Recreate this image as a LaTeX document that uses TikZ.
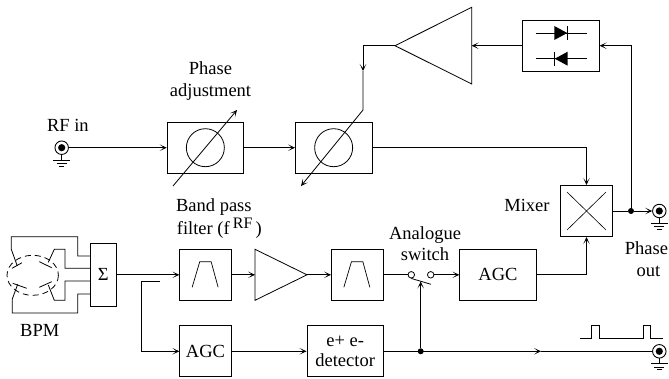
\documentclass[tikz,border=0pt]{standalone}
\usepackage{fontspec}
\setmainfont{Liberation Serif}
\usetikzlibrary{arrows.meta,positioning,calc}

\begin{document}
\begin{tikzpicture}[
    x=1pt, y=-1pt,
    font=\fontsize{18.5}{22}\selectfont,
    >={Stealth[length=7pt,width=6.5pt,inset=4.2pt]},
    line width=0.8pt,
    flow/.style={->, line width=0.8pt},
    wire/.style={line width=0.8pt},
    block/.style={
        draw,
        align=center,
        minimum width=76.5pt,
        minimum height=51pt,
        inner sep=0pt,
        line width=0.8pt
    },
    filterbox/.style={
        block,
        minimum width=51.5pt
    },
    textlabel/.style={
        align=center,
        inner sep=0pt
    },
    port/.style={
        draw,
        circle,
        minimum size=13.5pt,
        inner sep=0pt,
        line width=0.9pt,
        path picture={\fill (path picture bounding box.center) circle (3.6pt);}
    },
    junction/.style={
        circle,
        fill,
        minimum size=6pt,
        inner sep=0pt
    },
    contact/.style={
        draw,
        circle,
        minimum size=6.5pt,
        inner sep=0pt
    },
    dial/.style={
        draw,
        circle,
        minimum size=38pt,
        inner sep=0pt
    },
    gnd/.pic={
        \draw[line width=0.7pt] (0,6.7) -- (0,12.3) (-8.5,12.3) -- (8.5,12.3)
            (-5,15.7) -- (5,15.7) (-2.3,18.5) -- (2.3,18.5);
    },
    passband/.pic={
        \draw[line width=0.7pt] (-13.3,12.5) -- (-5.7,-13.1) -- (5.7,-13.1) -- (12.7,12.5);
    },
    diode/.pic={
        \draw[line width=0.7pt] (-25.5,0) -- (25.5,0) (6.3,-7) -- (6.3,7);
        \fill (-6.7,-7) -- (6.3,0) -- (-6.7,7) -- cycle;
    }
]
\useasboundingbox (0,0) rectangle (669,378);

% RF path
\node[port] (rfin) at (61.7,147.7) {};
\node[block, anchor=west] (phaseA) at (166.7,147.7) {};
\node[block, right=51pt of phaseA] (phaseB) {};
\node[dial] (dialA) at (phaseA) {};
\node[dial] (dialB) at (phaseB) {};
\node[block, minimum width=51.3pt, minimum height=51.3pt] (mixer) at (586.5,211) {};
\node[port] (phaseout) at (659.3,211) {};
\node[junction] (split) at (631,211) {};
\coordinate (rfcorner) at (mixer |- phaseB);

% Feedback loop
\node[block] (limiter) at (561,45.7) {};
\coordinate (ampTip) at (395,45.7);
\coordinate (ampBase) at (471.7,45.7);
\coordinate (loopTip) at (363,71);
\coordinate (kink) at (363,110);
\coordinate (shiftEnd) at (301,186);
\coordinate (adjStart) at (173,186);
\coordinate (adjEnd) at (237,110);

% Beam signal path
\node[block, minimum height=63.7pt, minimum width=25.3pt] (sum) at (103.3,274.8) {Σ};
\node[filterbox, anchor=west] (bandA) at (179.3,274.8) {};
\coordinate (gainIn) at (255,274.8);
\coordinate (gainOut) at (307,274.8);
\node[filterbox, anchor=west] (bandB) at (331,274.8) {};
\node[contact] (swA) at (411.3,274.8) {};
\node[contact] (swB) at (430.7,274.8) {};
\coordinate (lever) at (431,284.3);
\node[block, anchor=west] (agcA) at (459.3,274.8) {AGC};

% Detection path
\node[filterbox, anchor=west] (agcB) at (179.3,351.3) {AGC};
\node[block, anchor=west] (detector) at (306.5,351.3) {e+ e-\\[-2pt]detector};
\node[junction] (detdot) at (420.7,351.3) {};
\node[port] (gateout) at (659.3,351.3) {};
\coordinate (gateTip) at (541,351.3);
\coordinate (tap) at (160,281.7);
\coordinate (tapcorner) at (141.3,281.7);
\coordinate (leverTip) at (420.7,281.5);
\coordinate (pulse) at (580,338.3);

% Labels
\node[textlabel, anchor=base] (lblPhase) at (210.5,74) {Phase};
\node[textlabel, anchor=base] (lblAdjust) at (210.5,96) {adjustment};
\node[textlabel, anchor=base west] (lblRf) at (46.7,131) {RF in};
\node[textlabel, anchor=base west] (lblBand) at (175.7,211.7) {Band pass};
\node[textlabel, anchor=base west] (lblFilter) at (176.5,234) {filter (f\,\raisebox{6pt}{\fontsize{16}{16}\selectfont RF}\,)};
\node[textlabel, anchor=base] (lblBpm) at (39.7,336.7) {BPM};
\node[textlabel, anchor=base] (lblAnalogue) at (425,239) {Analogue};
\node[textlabel, anchor=base] (lblSwitch) at (425,260.7) {switch};
\node[textlabel, anchor=base west] (lblMixer) at (504,211.7) {Mixer};
\node[textlabel, anchor=base east] (lblOutA) at (668.5,254) {Phase};
\node[textlabel, anchor=base] (lblOutB) at (648.5,276) {out};

% Symbols
\draw (ampTip) -- (471.7,7.3) -- (471.7,84) -- cycle;
\draw (gainOut) -- (255,249.3) -- (255,300.3) -- cycle;
\pic at (rfin) {gnd};
\pic at (phaseout) {gnd};
\pic at (gateout) {gnd};
\pic at (bandA) {passband};
\pic at (bandB) {passband};
\pic at ($(limiter)+(0,-12.7)$) {diode};
\pic[rotate=180] at ($(limiter)+(0,13)$) {diode};
\draw[line width=0.6pt] ($(mixer)+(-19.5,-19)$) -- ($(mixer)+(19.5,19)$)
    ($(mixer)+(-19.5,19)$) -- ($(mixer)+(19.5,-19)$);

% BPM pick-ups
\draw[dashed, dash pattern=on 6pt off 4pt] (32.7,275.3) ellipse (25.7 and 20);
\draw[wire] (sum.west |- 0,256) -- (77.7,256) -- (77.7,236.7) -- (11.3,236.7) -- (11.3,249.3) -- (17.3,266);
\draw[wire] (sum.west |- 0,268.3) -- (65,268.3) -- (65,249.3) -- (54.3,249.3) -- (48.3,262.3);
\draw[wire] (sum.west |- 0,281) -- (65,281) -- (65,300.3) -- (54.3,300.3) -- (48.3,285);
\draw[wire] (sum.west |- 0,294) -- (77.7,294) -- (77.7,313) -- (12.3,313) -- (12.3,299) -- (17.7,284.3);
\draw (12,268.3) -- (22,262.7) (39.3,261.7) -- (51.7,267.7)
    (39.3,287.3) -- (51.7,281.7) (12.7,283.3) -- (26.7,288.3);

% Data flow
\draw[flow] (rfin) -- (phaseA);
\draw[flow] (phaseA) -- (phaseB);
\draw[flow] (phaseB) -- (rfcorner) -- (mixer);
\draw[flow] (adjStart) -- (adjEnd);
\draw[flow] (split |- mixer) |- (limiter);
\draw[flow] (limiter) -- (ampBase);
\draw[flow] (ampTip) -| (loopTip);
\draw[flow] (loopTip) -- (kink) -- (shiftEnd);
\draw[wire] (mixer) -- (split);
\draw[flow] (split) -- (phaseout);

\draw[flow] (sum) -- (bandA);
\draw[flow] (bandA) -- (gainIn);
\draw[flow] (gainOut) -- (bandB);
\draw[wire] (bandB) -- (swA);
\draw[wire] (swA.south) -- (lever);
\draw[flow] (swB) -- (agcA);
\draw[flow] (agcA) -| (mixer);
\draw[wire] (tap) -- (tapcorner);
\draw[flow] (tapcorner) |- (agcB);
\draw[flow] (agcB) -- (detector);
\draw[flow] (detector) -- (gateTip);
\draw[wire] (gateTip) -- (gateout);
\draw[flow] (detdot) -- (leverTip);
\draw[line width=0.7pt] (pulse) -- ++(11.7,0) -- ++(0,-12.6) -- ++(7.6,0) -- ++(0,12.6)
    -- ++(44,0) -- ++(0,-12.6) -- ++(7.4,0) -- ++(0,12.6) -- ++(12,0);

\end{tikzpicture}
\end{document}
